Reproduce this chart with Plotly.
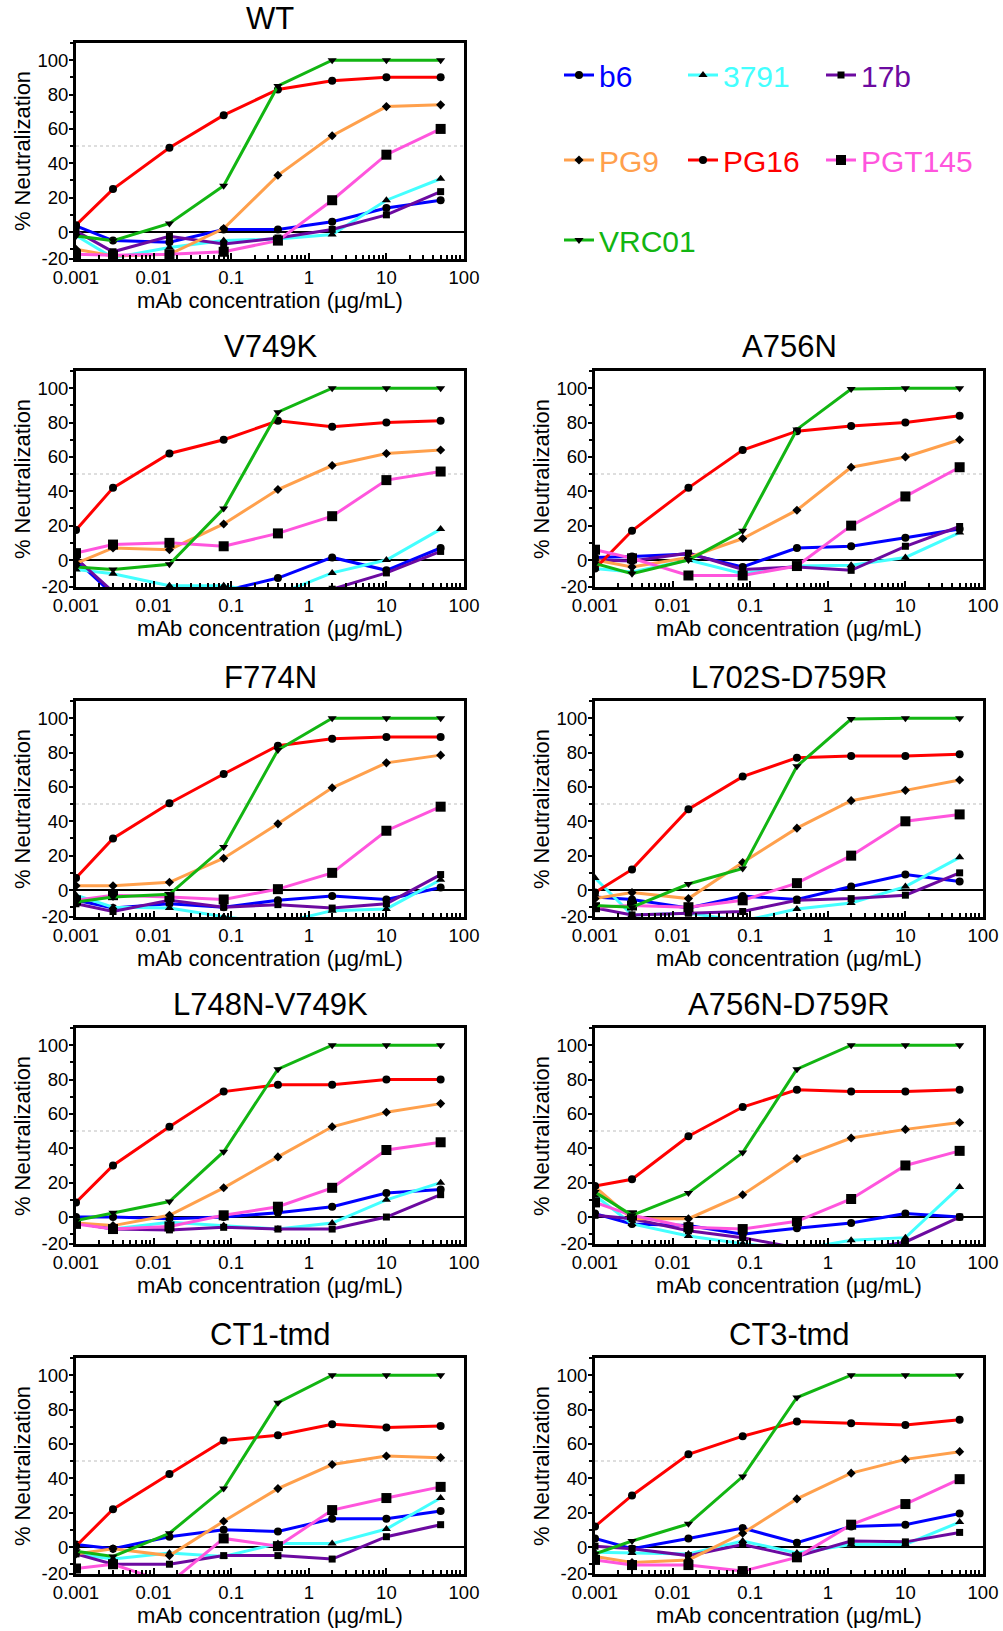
import plotly.graph_objects as go

# ---------------- data ----------------
CONC = [0.001, 0.003, 0.016, 0.08, 0.4, 2, 10, 50]
ANTIBODIES = ["b6", "3791", "17b", "PG9", "PG16", "PGT145", "VRC01"]
COLORS = ["#0000ff", "#44ffff", "#6c0aa0", "#ffa04c", "#ff0000", "#ff55dd", "#12b512"]
SYMBOLS = ["circle", "triangle-up", "square", "diamond", "circle", "square", "triangle-down"]
MARKER_SIZES = [8, 8, 7, 7, 8, 10, 8]

X_TICKS = [0.001, 0.01, 0.1, 1, 10, 100]
X_TICK_TEXT = ["0.001", "0.01", "0.1", "1", "10", "100"]
Y_TICKS = [-15.7, 0, 20, 40, 60, 80, 100]
Y_TICK_TEXT = ["-20", "0", "20", "40", "60", "80", "100"]

PANEL_NAMES = ["WT", "V749K", "A756N", "F774N", "L702S-D759R",
               "L748N-V749K", "A756N-D759R", "CT1-tmd", "CT3-tmd"]

WT = {
    "b6":     [3.5, -5, -6, 1.5, 1.5, 6, 14, 18.5],
    "3791":   [-2, -15, -9, -5, -4, -1.5, 18.5, 31],
    "17b":    [0.5, -11.5, -2.5, -7, -3.5, 1.5, 10, 23.5],
    "PG9":    [-10, -14, -13, 2, 33, 56, 73, 74],
    "PG16":   [4, 25, 49, 68, 83, 88, 90, 90],
    "PGT145": [-13, -13.5, -13, -11.5, -5, 18.5, 45, 60],
    "VRC01":  [-2.3, -5, 5, 27, 85, 100, 100, 100],
}
V749K = {
    "b6":     [0, -20, -22, -18, -10.5, 1.5, -6, 7],
    "3791":   [-5.5, -8, -15, -15, -20, -7.5, 0, 18],
    "17b":    [1, -18.5, -30, -30, -28, -17, -7.5, 5],
    "PG9":    [-2, 7, 6, 21, 41, 55, 62, 64],
    "PG16":   [17.5, 42, 62, 70, 81, 77.5, 80, 81],
    "PGT145": [4, 9, 10, 8, 15.5, 25.5, 46.5, 51.5],
    "VRC01":  [-4, -5.5, -2.5, 30, 86, 100, 100, 100],
}
A756N = {
    "b6":     [1.5, 2, 3.5, -4, 7, 8, 13, 18],
    "3791":   [-5, -7, 0, -8, -3.5, -3, 1.5, 16],
    "17b":    [0, -0.5, 4, -5.5, -4, -6, 8, 19.5],
    "PG9":    [0, -4, 1.5, 12.5, 29, 54, 60, 70],
    "PG16":   [-5, 17, 42, 64, 75, 78, 80, 84],
    "PGT145": [6, 1, -9, -9, -3.5, 20, 37, 54],
    "VRC01":  [-2, -8, 0, 17, 76, 99.5, 100, 100],
}
F774N = {
    "b6":     [-6, -10.5, -8, -10, -6, -3.5, -5.5, 1.5],
    "3791":   [-3, -10, -10.5, -15.5, -19.5, -12, -11, 6],
    "17b":    [-8, -12.5, -6, -10, -8.5, -10.5, -8, 9],
    "PG9":    [2.5, 2.5, 4.5, 18.5, 38.5, 59.5, 74, 78.5],
    "PG16":   [7, 30, 50.5, 67.5, 84, 88, 89, 89],
    "PGT145": [-6, -3, -4, -5.5, 0.5, 10, 34.5, 48.5],
    "VRC01":  [-7, -4, -2.5, 25, 81.5, 100, 100, 100],
}
L702S_D759R = {
    "b6":     [-4, -5.5, -10.5, -3.5, -5.5, 2, 9, 5],
    "3791":   [7, -14.5, -13.5, -18, -11, -7.5, 2, 19],
    "17b":    [-10.5, -14.5, -13.5, -12.5, -6, -5, -3, 10],
    "PG9":    [-5, -1.5, -5, 16, 36, 52, 58, 64],
    "PG16":   [-1.5, 12, 47, 66, 77, 78, 78, 79],
    "PGT145": [-10, -9, -10, -6, 4, 20, 40, 44],
    "VRC01":  [-9, -10, 3.5, 12.5, 72, 99.5, 100, 100],
}
L748N_V749K = {
    "b6":     [0, 0, -1, 0, 2.5, 6, 14, 16],
    "3791":   [-3.5, -7, -3, -5, -7, -3.5, 10, 20],
    "17b":    [-3.5, -7, -7.5, -6, -7, -7, 0, 13],
    "PG9":    [-3.5, -5, 1, 17, 35, 52.5, 61, 66],
    "PG16":   [8.5, 30, 52.5, 73, 77, 77, 80, 80],
    "PGT145": [-4, -7, -5.5, 1, 6, 17, 39, 43.5],
    "VRC01":  [-2, 2.5, 9, 38, 86, 100, 100, 100],
}
A756N_D759R = {
    "b6":     [2, -4, -5, -10, -6.5, -3.5, 2, 0],
    "3791":   [12.5, -4, -11, -15.5, -19, -13.5, -12, 17.5],
    "17b":    [1, -1, -8, -12, -18, -20, -14.5, 0],
    "PG9":    [17.5, -1, -1, 13, 34, 46, 51, 55],
    "PG16":   [18, 22, 47, 64, 74, 73, 73, 74],
    "PGT145": [8.5, 1, -6, -7, -2.5, 10.5, 30, 38.5],
    "VRC01":  [14.5, 1, 14, 37.5, 86, 100, 100, 100],
}
CT1_TMD = {
    "b6":     [1.5, -1, 6, 10, 9, 16.5, 16.5, 21],
    "3791":   [-4, -7, -3.5, -5.5, 2, 2, 10.5, 28.5],
    "17b":    [-4, -10, -10, -5, -5, -7, 6, 13],
    "PG9":    [-4, -1, -5, 15, 34, 48, 53, 52],
    "PG16":   [0.5, 22, 42.5, 62, 65, 71.5, 69.5, 70.5],
    "PGT145": [-12.5, -10, -21, 5, 0.5, 21.5, 28.5, 35],
    "VRC01":  [-2.5, -5.5, 8, 34, 84, 100, 100, 100],
}
CT3_TMD = {
    "b6":     [5, -1, 5, 11, 2.5, 12, 13, 19.5],
    "3791":   [-3, -3.5, -4, 3.5, -3.5, 1.5, 1.5, 14.5],
    "17b":    [0.5, -1, -5, 1.5, -5.5, 3.5, 3, 8.5],
    "PG9":    [-5.5, -9, -7.5, 8, 28, 43, 51, 55.5],
    "PG16":   [12, 30, 54, 64.5, 73, 72, 71, 74],
    "PGT145": [-7.5, -10.5, -10.5, -14, -6, 13, 25, 39.5],
    "VRC01":  [-4, 3.5, 13.5, 41, 87, 100, 100, 100],
}
PANEL_DATA = [WT, V749K, A756N, F774N, L702S_D759R, L748N_V749K, A756N_D759R, CT1_TMD, CT3_TMD]

LEGEND_ROWS = [["b6", "3791", "17b"], ["PG9", "PG16", "PGT145"], ["VRC01"]]
LEGEND_COL_WIDTH = [79, 93, 130]   # px per legend column (text area)

# ---------------- layout geometry (pixels) ----------------
W, H = 1003, 1631
COL_X = [(76, 464), (595, 983)]
ROW_TOP = [43, 371, 701, 1028, 1358]
PLOT_H = 216
PANEL_POS = [(0, 0), (1, 0), (1, 1), (2, 0), (2, 1), (3, 0), (3, 1), (4, 0), (4, 1)]
LEGEND_Y = [75, 160, 240]
LEGEND_X = 559
FONT = "Arial, 'Liberation Sans', Helvetica, sans-serif"

minor_x = [m * 10 ** e for e in range(-3, 2) for m in range(2, 10)]
minor_y = [-10, 10, 30, 50, 70, 90, 110]

fig = go.Figure()
legend_of, legend_w = {}, {}
for k, row in enumerate(LEGEND_ROWS):
    for col, ab in enumerate(row):
        legend_of[ab] = "legend" if k == 0 else f"legend{k + 1}"
        legend_w[ab] = LEGEND_COL_WIDTH[col] if len(row) > 1 else max(LEGEND_COL_WIDTH)

shapes = []
annotations = []
for i, (name, data) in enumerate(zip(PANEL_NAMES, PANEL_DATA)):
    r, c = PANEL_POS[i]
    ax = "" if i == 0 else str(i + 1)
    x0, x1 = COL_X[c]
    top = ROW_TOP[r]
    bot = top + PLOT_H
    for j, ab in enumerate(ANTIBODIES):
        fig.add_trace(go.Scatter(
            x=CONC, y=data[ab], mode="lines+markers",
            name=f'<span style="color:{COLORS[j]}">{ab}</span>',
            line=dict(color=COLORS[j], width=3),
            marker=dict(symbol=SYMBOLS[j], size=MARKER_SIZES[j], color="black",
                        line=dict(width=0)),
            xaxis=f"x{ax}", yaxis=f"y{ax}",
            showlegend=(i == 0), legend=legend_of[ab], legendwidth=legend_w[ab],
        ))
    fig.update_layout({
        f"xaxis{ax}": dict(
            domain=[x0 / W, x1 / W], anchor=f"y{ax}", type="log", range=[-3, 2],
            tickmode="array", tickvals=X_TICKS, ticktext=X_TICK_TEXT,
            ticks="inside", ticklen=6, tickwidth=2, tickcolor="black",
            ticklabelstandoff=0,
            showline=True, mirror=True, linewidth=3, linecolor="black",
            showgrid=False, zeroline=False, automargin=False,
            tickfont=dict(size=18.5, color="black", family=FONT),
            title=dict(text="mAb concentration (µg/mL)", standoff=5,
                       font=dict(size=22, color="black", family=FONT)),
            minor=dict(tickmode="array", tickvals=minor_x, ticks="inside", ticklen=4,
                       tickwidth=1.5, tickcolor="black", showgrid=False),
        ),
        f"yaxis{ax}": dict(
            domain=[1 - bot / H, 1 - top / H], anchor=f"x{ax}", range=[-15.7, 110],
            tickmode="array", tickvals=Y_TICKS, ticktext=Y_TICK_TEXT,
            ticks="outside", ticklen=4, tickwidth=2, tickcolor="black",
            ticklabelstandoff=-3,
            showline=True, mirror=True, linewidth=3, linecolor="black",
            showgrid=False, zeroline=True, zerolinecolor="black", zerolinewidth=2,
            automargin=False,
            tickfont=dict(size=18.5, color="black", family=FONT),
            title=dict(text="% Neutralization", standoff=1,
                       font=dict(size=22, color="black", family=FONT)),
            minor=dict(tickmode="array", tickvals=minor_y, ticks="outside", ticklen=3,
                       tickwidth=1.5, tickcolor="black", showgrid=False),
        ),
    })
    shapes.append(dict(type="line", xref=f"x{ax} domain", yref=f"y{ax}",
                       x0=0, x1=1, y0=50, y1=50, layer="below",
                       line=dict(color="#d4d4d4", width=1.5, dash="dot")))
    annotations.append(dict(text=name, x=(x0 + x1) / 2 / W, y=1 - (top - 24) / H,
                            xref="paper", yref="paper", xanchor="center", yanchor="middle",
                            showarrow=False, font=dict(size=31, color="black", family=FONT)))

legend_common = dict(orientation="h", xanchor="left", yanchor="middle",
                     entrywidthmode="pixels", itemwidth=30,
                     bgcolor="rgba(0,0,0,0)", borderwidth=0,
                     font=dict(size=30, family=FONT))
legends = {}
for k in range(len(LEGEND_ROWS)):
    key = "legend" if k == 0 else f"legend{k + 1}"
    legends[key] = dict(legend_common, x=LEGEND_X / W, y=1 - LEGEND_Y[k] / H)

fig.update_layout(
    width=W, height=H,
    margin=dict(l=0, r=0, t=0, b=0, autoexpand=False),
    paper_bgcolor="white", plot_bgcolor="white",
    font=dict(family=FONT, color="black"),
    shapes=shapes, annotations=annotations,
    **legends,
)

fig.write_html("out.html")
